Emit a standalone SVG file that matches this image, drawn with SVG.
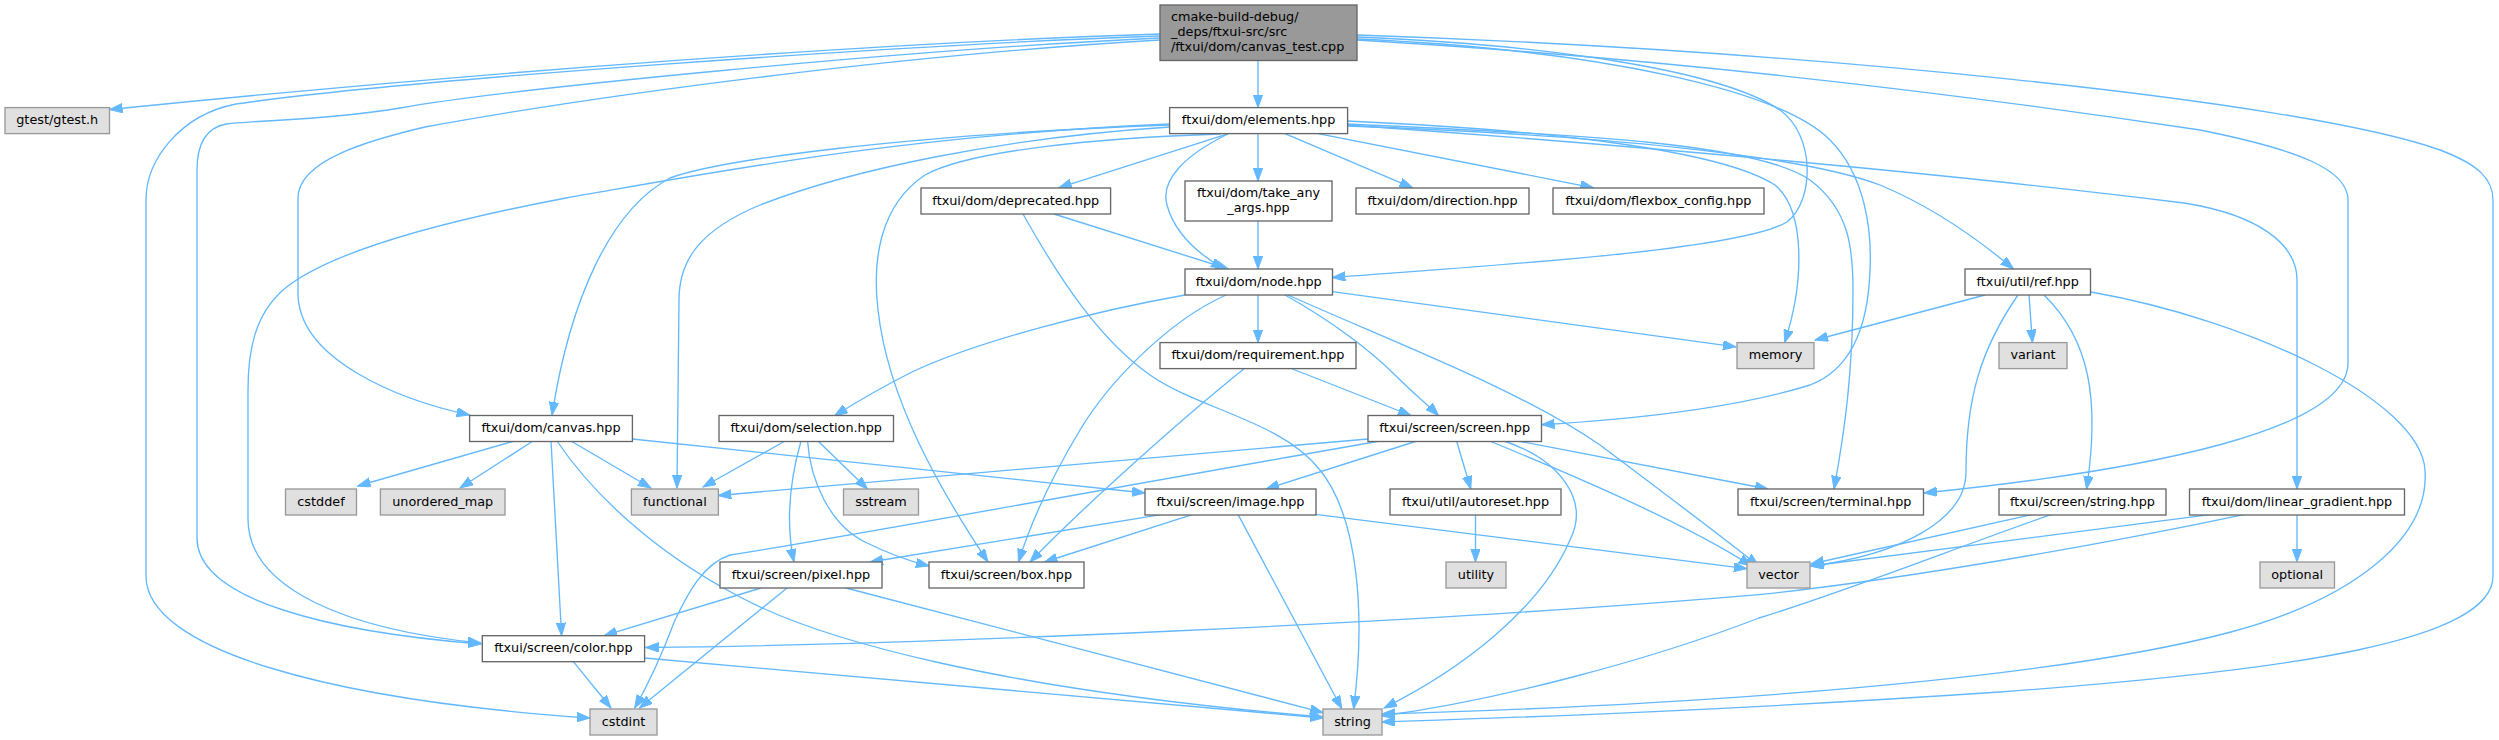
<svg xmlns="http://www.w3.org/2000/svg" width="2499" height="740" viewBox="0 0 2499 740">
<style>
.n rect{fill:#ffffff;stroke:#666666;stroke-width:1.33}
.g rect{fill:#e0e0e0;stroke:#999999;stroke-width:1.33}
.r rect{fill:#999999;stroke:#666666;stroke-width:1.33}
text{font-family:"DejaVu Sans","Liberation Sans",sans-serif;font-size:12.8px;fill:#000000;text-anchor:middle}
.r text{text-anchor:start}
#edges path{fill:none;stroke:#63b8ff;stroke-width:1.33;marker-end:url(#a)}
</style>
<defs>
<marker id="a" markerWidth="14" markerHeight="10" refX="13" refY="4.7" orient="auto" markerUnits="userSpaceOnUse">
<path d="M0,0 L13,4.7 L0,9.4 z" fill="#63b8ff" stroke="#63b8ff" stroke-width="1"/>
</marker>
</defs>
<rect width="2499" height="740" fill="#ffffff"/>
<g id="edges">
<path d="M1258,60.5 L1258,107.6"/>
<path d="M1160,34 C900,42 500,70 109.5,109.5"/>
<path d="M1160,36 C900,45 400,80 236,104 C180,115 146,160 146,200 L146,576 C146,650 330,700 590,718"/>
<path d="M1160,38 C900,50 500,90 400,108 C330,120 260,120 226,124 C205,128 197,145 197,170 L197,538 C197,600 330,632 481,644"/>
<path d="M1160,40 C900,55 600,95 425,127 C370,140 298,160 298,198 L298,293 C298,360 400,400 469.6,415"/>
<path d="M1357,37 C1550,45 1720,70 1780,110 C1815,135 1815,200 1787,222 C1740,250 1500,265 1332.4,277.5"/>
<path d="M1357,39 C1600,50 1780,90 1830,140 C1865,175 1872,230 1870,270 C1868,330 1850,370 1810,385 C1730,410 1620,420 1541.6,424.7"/>
<path d="M1357,40 C1700,60 2000,100 2200,130 C2300,150 2348,170 2348,200 L2348,363 C2348,430 2150,470 1924,493"/>
<path d="M1357,35 C1800,50 2300,100 2440,150 C2480,165 2493,180 2493,200 L2493,576 C2493,640 2300,670 2000,692 C1700,712 1500,718 1382,722"/>
<path d="M1228.5,133.6 L1058.7,187.8"/>
<path d="M1258,133.6 L1258,181"/>
<path d="M1285,133.6 L1412.6,187.8"/>
<path d="M1318,133.6 L1593.5,187.8"/>
<path d="M1228,134 C1185,155 1160,180 1167,205 C1175,235 1200,255 1224,269"/>
<path d="M1221,134 C1100,138 970,150 925,175 C880,205 872,260 878,310 C888,400 940,490 988,562"/>
<path d="M1170,127 C1000,138 850,170 760,205 C700,230 679,260 679,300 L677,488"/>
<path d="M1170,125 C900,135 720,160 670,178 C610,210 570,300 552,415"/>
<path d="M1170,124 C900,135 700,175 566,198 C450,220 330,250 283,290 C255,315 248,350 248,390 L248,519 C248,590 350,630 481,643"/>
<path d="M1347,121 C1550,130 1720,150 1775,185 C1805,210 1805,280 1784.6,342.6"/>
<path d="M1347,124 C1600,135 1760,145 1810,180 C1850,210 1853,250 1853,290 C1853,370 1845,430 1834,489"/>
<path d="M1347,126 C1600,135 1800,155 1880,185 C1940,210 1985,245 2013.5,269"/>
<path d="M1347,125 C1700,150 2000,180 2184,203 C2260,215 2297,245 2297,280 L2297,489"/>
<path d="M1054,214 L1228.5,269"/>
<path d="M1023,214 C1060,280 1100,340 1150,375 C1200,410 1280,420 1320,470 C1360,520 1365,620 1353.6,708.8"/>
<path d="M1258,221 L1258,269"/>
<path d="M1258,295 L1258,342.6"/>
<path d="M1185,295 C1100,310 980,340 912,372 C880,388 855,403 834.5,415.8"/>
<path d="M1226,295 C1170,320 1110,380 1080,430 C1050,480 1030,525 1018.5,562"/>
<path d="M1285,295 C1330,320 1370,350 1395,375 C1415,395 1428,405 1438.5,415.5"/>
<path d="M1288,295 C1400,345 1520,390 1600,445 C1660,490 1720,535 1758.7,566"/>
<path d="M1332.4,291.6 L1736,346.9"/>
<path d="M1290,368 L1411,415.5"/>
<path d="M1245,368 C1180,420 1080,510 1030,562"/>
<path d="M785,441 L703,487"/>
<path d="M818,441 L867.5,489"/>
<path d="M801,441 C790,480 785,520 794,562"/>
<path d="M807.6,441 C810,480 830,525 865,542 C885,552 905,560 929,566"/>
<path d="M514.4,441 L357.7,486"/>
<path d="M533,441 L460,488"/>
<path d="M571,441 L651,488"/>
<path d="M551,441 L561.6,635.7"/>
<path d="M557,441 C590,490 650,550 740,597 C820,640 1000,690 1323,717"/>
<path d="M632.4,439 L1145,493"/>
<path d="M1368,439 L718.3,495.5"/>
<path d="M1380,441 C1100,490 800,545 730,555 C700,565 685,600 675,620 C660,660 645,690 634.7,708"/>
<path d="M1417,441 L1266,489"/>
<path d="M1456.6,441 L1470.8,489"/>
<path d="M1518,441 L1768,489"/>
<path d="M1489.7,441 C1560,470 1680,520 1751.6,566"/>
<path d="M1504,441 C1560,460 1590,500 1570,540 C1540,610 1460,670 1384,708"/>
<path d="M1162.5,514.4 L870,562"/>
<path d="M1193,514.4 L1044.5,562"/>
<path d="M1238,514.4 L1341.8,708.8"/>
<path d="M1315.8,514.4 L1746.9,568.7"/>
<path d="M1475.5,514.4 L1475.5,562"/>
<path d="M761,588 L604,635.7"/>
<path d="M787,588 L639.4,708"/>
<path d="M846,588 L1323,712.6"/>
<path d="M573.4,661.6 L611,708"/>
<path d="M644.6,658 L1323,718"/>
<path d="M1985,295 L1815,340"/>
<path d="M2029,295 L2032.4,342.6"/>
<path d="M2018,295 C1980,350 1966,400 1966,472 C1966,520 1900,555 1810.6,566"/>
<path d="M2044,295 C2090,340 2100,400 2086.6,489"/>
<path d="M2091,292 C2250,320 2420,400 2425,470 C2430,540 2350,600 2231,632 C2050,680 1700,705 1382,714"/>
<path d="M2032.7,514.4 L1810.9,564"/>
<path d="M2051.6,514.4 C1950,550 1850,590 1759,618 C1650,660 1500,700 1382,716"/>
<path d="M2212,514.4 L1811,566"/>
<path d="M2245,514.4 C2100,545 1900,580 1759,594.6 C1400,625 900,645 645.6,647.5"/>
<path d="M2297,514.4 L2297,562"/>
</g>
<g id="main" class="r"><rect x="1160" y="5" width="197" height="55.5"/><text x="1171" y="21">cmake-build-debug/</text><text x="1171" y="35.8">_deps/ftxui-src/src</text><text x="1171" y="50.6">/ftxui/dom/canvas_test.cpp</text></g>
<g id="gtest" class="g"><rect x="5" y="107.6" width="104.5" height="26"/><text x="57.2" y="124.3">gtest/gtest.h</text></g>
<g id="elements" class="n"><rect x="1169.6" y="107.6" width="178" height="26"/><text x="1258.6" y="124.3">ftxui/dom/elements.hpp</text></g>
<g id="deprecated" class="n"><rect x="921" y="188" width="189.6" height="26"/><text x="1015.8" y="204.7">ftxui/dom/deprecated.hpp</text></g>
<g id="take_any_args" class="n"><rect x="1185" y="181" width="147" height="40"/><text x="1258.5" y="197">ftxui/dom/take_any</text><text x="1258.5" y="211.8">_args.hpp</text></g>
<g id="direction" class="n"><rect x="1356" y="188" width="173" height="26"/><text x="1442.5" y="204.7">ftxui/dom/direction.hpp</text></g>
<g id="flexbox_config" class="n"><rect x="1553" y="188" width="211" height="26"/><text x="1658.5" y="204.7">ftxui/dom/flexbox_config.hpp</text></g>
<g id="node" class="n"><rect x="1185" y="269" width="147.5" height="26"/><text x="1258.7" y="285.7">ftxui/dom/node.hpp</text></g>
<g id="ref" class="n"><rect x="1965" y="269" width="125.5" height="26"/><text x="2027.7" y="285.7">ftxui/util/ref.hpp</text></g>
<g id="requirement" class="n"><rect x="1160" y="342.6" width="196" height="26"/><text x="1258" y="359.3">ftxui/dom/requirement.hpp</text></g>
<g id="memory" class="g"><rect x="1737" y="342.6" width="77" height="26"/><text x="1775.5" y="359.3">memory</text></g>
<g id="variant" class="g"><rect x="1999" y="342.6" width="68" height="26"/><text x="2033" y="359.3">variant</text></g>
<g id="canvas" class="n"><rect x="469.6" y="415.5" width="162.8" height="26"/><text x="551" y="432.2">ftxui/dom/canvas.hpp</text></g>
<g id="selection" class="n"><rect x="719" y="415.5" width="174.5" height="26"/><text x="806.2" y="432.2">ftxui/dom/selection.hpp</text></g>
<g id="screen" class="n"><rect x="1368" y="415.5" width="173.5" height="26"/><text x="1454.7" y="432.2">ftxui/screen/screen.hpp</text></g>
<g id="cstddef" class="g"><rect x="285.5" y="489" width="71" height="26"/><text x="321" y="505.7">cstddef</text></g>
<g id="unordered_map" class="g"><rect x="380.4" y="489" width="124.6" height="26"/><text x="442.7" y="505.7">unordered_map</text></g>
<g id="functional" class="g"><rect x="631.4" y="489" width="87" height="26"/><text x="674.9" y="505.7">functional</text></g>
<g id="sstream" class="g"><rect x="843.5" y="489" width="75" height="26"/><text x="881" y="505.7">sstream</text></g>
<g id="image" class="n"><rect x="1145" y="489" width="171" height="26"/><text x="1230.5" y="505.7">ftxui/screen/image.hpp</text></g>
<g id="autoreset" class="n"><rect x="1390" y="489" width="171" height="26"/><text x="1475.5" y="505.7">ftxui/util/autoreset.hpp</text></g>
<g id="terminal" class="n"><rect x="1738" y="489" width="185.5" height="26"/><text x="1830.7" y="505.7">ftxui/screen/terminal.hpp</text></g>
<g id="string_hpp" class="n"><rect x="1999" y="489" width="167" height="26"/><text x="2082.5" y="505.7">ftxui/screen/string.hpp</text></g>
<g id="linear_gradient" class="n"><rect x="2189.5" y="489" width="215" height="26"/><text x="2297" y="505.7">ftxui/dom/linear_gradient.hpp</text></g>
<g id="pixel" class="n"><rect x="720" y="562" width="162" height="26"/><text x="801" y="578.7">ftxui/screen/pixel.hpp</text></g>
<g id="box" class="n"><rect x="929" y="562" width="155" height="26"/><text x="1006.5" y="578.7">ftxui/screen/box.hpp</text></g>
<g id="utility" class="g"><rect x="1446" y="562" width="60" height="26"/><text x="1476" y="578.7">utility</text></g>
<g id="vector" class="g"><rect x="1747" y="562" width="63" height="26"/><text x="1778.5" y="578.7">vector</text></g>
<g id="optional" class="g"><rect x="2260" y="562" width="74.5" height="26"/><text x="2297.2" y="578.7">optional</text></g>
<g id="color" class="n"><rect x="482.3" y="635.7" width="162.3" height="26"/><text x="563.4" y="652.4">ftxui/screen/color.hpp</text></g>
<g id="cstdint" class="g"><rect x="590" y="709" width="67" height="26"/><text x="623.5" y="725.7">cstdint</text></g>
<g id="string" class="g"><rect x="1323" y="709" width="59" height="26"/><text x="1352.5" y="725.7">string</text></g>
</svg>
